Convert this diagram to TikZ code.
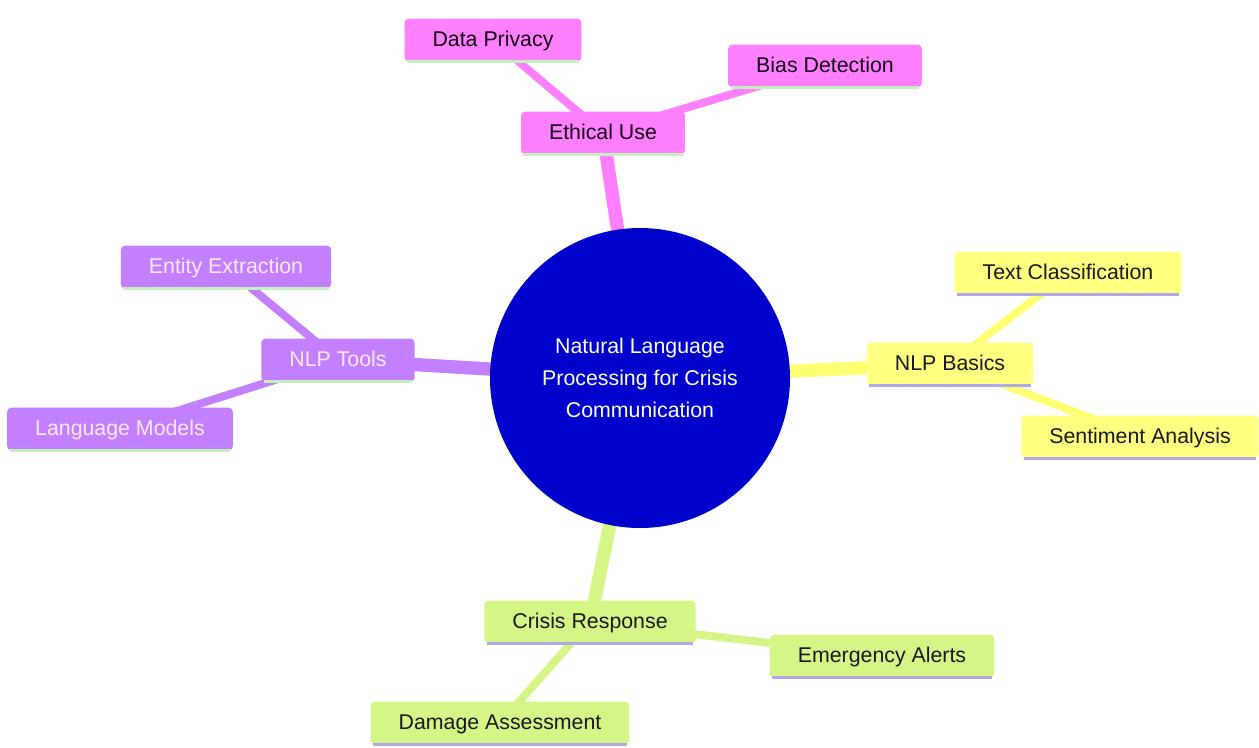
\documentclass[tikz,border=0pt]{standalone}
\usepackage{fontspec}
\setmainfont{Liberation Sans}
\usetikzlibrary{backgrounds}
\definecolor{ethicfill}{RGB}{255,128,255}
\definecolor{basicfill}{RGB}{255,255,128}
\definecolor{toolfill}{RGB}{194,128,255}
\definecolor{crisisfill}{RGB}{214,245,135}
\definecolor{rootblue}{RGB}{0,0,205}
\definecolor{underlgreen}{RGB}{196,240,190}
\definecolor{underlviolet}{RGB}{176,168,232}
\definecolor{tooltext}{RGB}{255,232,255}
\begin{document}
\begin{tikzpicture}[x=0.75pt, y=-0.75pt]
    \tikzset{
      topic/.style={rounded corners=3pt, inner xsep=21pt, minimum height=32pt,
        font=\fontsize{16}{19}\selectfont, text height=12pt, text depth=3pt},
      ethic/.style={topic, fill=ethicfill, text=black!85!violet},
      basic/.style={topic, fill=basicfill, text=black!90},
      tool/.style={topic, fill=toolfill, text=tooltext},
      crisis/.style={topic, fill=crisisfill, text=black!90},
      branch/.style={line width=10pt},
      twig/.style={line width=6pt}
    }
    \useasboundingbox (0,0) rectangle (1259,747);
    % root
    \node [circle, fill=rootblue, minimum size=225pt, text=white, align=center,
      font=\fontsize{16}{24}\selectfont] (root) at (640,378)
      {Natural Language\\Processing for Crisis\\Communication};
    % ethical use
    \node [ethic] (ethic) at (603,133) {Ethical Use};
    \node [ethic] (privacy) at (493,40) {Data Privacy};
    \node [ethic] (bias) at (825,66) {Bias Detection};
    % nlp basics
    \node [basic] (basics) at (950,364) {NLP Basics};
    \node [basic] (textcls) at (1068,273) {Text Classification};
    \node [basic] (sentiment) at (1140,437) {Sentiment Analysis};
    % nlp tools
    \node [tool] (tools) at (338,360) {NLP Tools};
    \node [tool] (entity) at (226,267) {Entity Extraction};
    \node [tool] (langmod) at (120,429) {Language Models};
    % crisis response
    \node [crisis] (response) at (590,622) {Crisis Response};
    \node [crisis] (alerts) at (882,656) {Emergency Alerts};
    \node [crisis] (damage) at (500,723) {Damage Assessment};
    % underlines
    \foreach \n in {ethic, privacy, bias, tools, entity, langmod}
      \draw [underlgreen, line width=2pt] ([xshift=2pt]\n.south west) -- ([xshift=-2pt]\n.south east);
    \foreach \n in {basics, textcls, sentiment, response, alerts, damage}
      \draw [underlviolet, line width=2.5pt] ([xshift=2pt]\n.south west) -- ([xshift=-2pt]\n.south east);
    % connectors
    \begin{pgfonlayer}{background}
      \draw [branch, ethicfill] (root.center) -- (ethic.center);
      \draw [twig, ethicfill] (ethic.center) -- (privacy.center);
      \draw [twig, ethicfill] (ethic.center) -- (bias.center);
      \draw [branch, basicfill!90!yellow] (root.center) -- (basics.center);
      \draw [twig, basicfill!90!yellow] (basics.center) -- (textcls.center);
      \draw [twig, basicfill!90!yellow] (basics.center) -- (sentiment.center);
      \draw [branch, toolfill] (root.center) -- (tools.center);
      \draw [twig, toolfill] (tools.center) -- (entity.center);
      \draw [twig, toolfill] (tools.center) -- (langmod.center);
      \draw [branch, crisisfill] (root.center) -- (response.center);
      \draw [twig, crisisfill] (response.center) -- (alerts.center);
      \draw [twig, crisisfill] (response.center) -- (damage.center);
    \end{pgfonlayer}
\end{tikzpicture}
\end{document}
